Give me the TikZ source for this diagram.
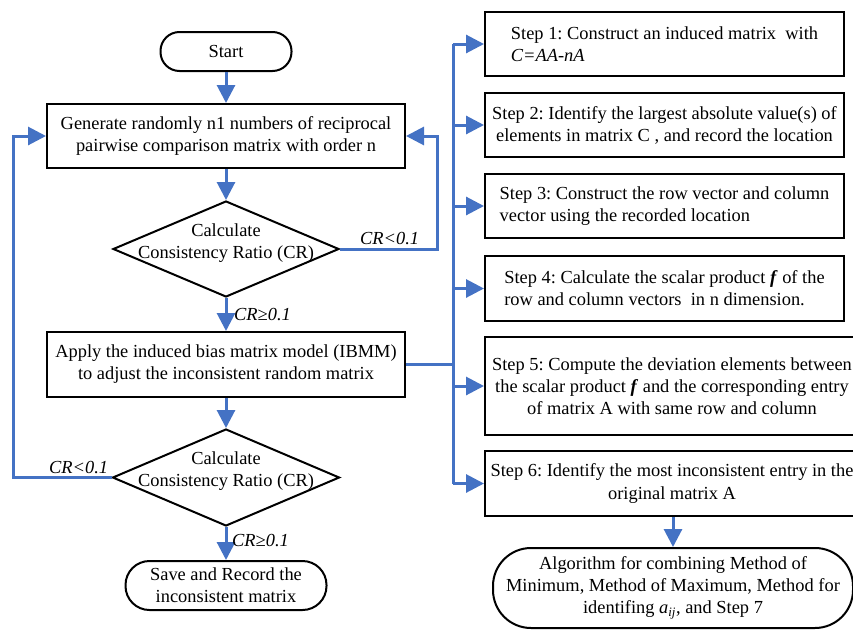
\documentclass[tikz,border=0pt]{standalone}
\usepackage{fontspec}
\setmainfont{Liberation Serif}
\usetikzlibrary{shapes.geometric,arrows.meta}
\definecolor{fblue}{RGB}{68,114,196}
\frenchspacing
\begin{document}
\begin{tikzpicture}[x=1pt,y=-1pt,
  every node/.style={font=\fontsize{18.4}{22}\selectfont, inner sep=0pt},
  procbox/.style={draw=black, line width=2pt, rectangle},
  termbox/.style={draw=black, line width=2pt, rectangle},
  decbox/.style={draw=black, line width=2pt, diamond},
  conn/.style={draw=fblue, line width=3pt},
  arr/.style={conn, -{Triangle[length=18pt,width=18pt]}},
  lbl/.style={font=\fontsize{18.4}{22}\selectfont\itshape, anchor=base west}]
\useasboundingbox (0,0) rectangle (853,629);
% left column
\node[termbox, rounded corners=19pt, minimum width=131pt, minimum height=39pt] (start) at (226,51.5) {Start};
\node[procbox, minimum width=358pt, minimum height=64pt, align=center] (gen) at (226,136)
  {Generate randomly n1 numbers of reciprocal\\pairwise comparison matrix with order n};
\node[decbox, minimum width=226pt, minimum height=96pt] (d1) at (226,249) {};
\node[align=center] (d1t) at (226,243.5) {Calculate\\Consistency Ratio (CR)};
\node[procbox, minimum width=358pt, minimum height=65pt, align=center] (ibmm) at (226,364.5)
  {Apply the induced bias matrix model (IBMM)\\to adjust the inconsistent random matrix};
\node[decbox, minimum width=227pt, minimum height=97pt] (d2) at (226,477.5) {};
\node[align=center] (d2t) at (226,471.5) {Calculate\\Consistency Ratio (CR)};
\node[termbox, rounded corners=24pt, minimum width=201pt, minimum height=49pt, align=center] (save) at (226,585.5)
  {Save and Record the\\inconsistent matrix};
% right column
\node[procbox, minimum width=359pt, minimum height=64pt, align=left] (s1) at (664.5,44)
  {Step 1: Construct an induced matrix~ with\\\textit{C=AA-nA}};
\node[procbox, minimum width=359pt, minimum height=64pt, align=center] (s2) at (664.5,125)
  {Step 2: Identify the largest absolute value(s) of\\elements in matrix C , and record the location};
\node[procbox, minimum width=359pt, minimum height=64pt, align=left] (s3) at (664.5,206)
  {Step 3: Construct the row vector and column\\vector using the recorded location};
\node[procbox, minimum width=359pt, minimum height=65pt, align=left] (s4) at (664.5,288.5)
  {Step 4: Calculate the scalar product \textbf{\textit{f}} of the\\row and column vectors~ in n dimension.};
\node[procbox, minimum width=374pt, minimum height=98pt, align=center] (s5) at (672,386)
  {Step 5: Compute the deviation elements between\\the scalar product \textbf{\textit{f}} and the corresponding entry\\of matrix A with same row and column};
\node[procbox, minimum width=374pt, minimum height=65pt, align=center] (s6) at (672,483.5)
  {Step 6: Identify the most inconsistent entry in the\\original matrix A};
\node[termbox, rounded corners=38pt, minimum width=360pt, minimum height=80pt, align=center] (fin) at (673,588)
  {Algorithm for combining Method of\\Minimum, Method of Maximum, Method for\\identifing \textit{a}\textsubscript{\textit{ij}}, and Step 7};
% coordinates
\coordinate (rx) at (437,0);
\coordinate (lx) at (13,0);
\coordinate (bx) at (453,0);
% connectors
\draw[arr] (start.south) -- (gen.north);
\draw[arr] (gen.south) -- (d1.north);
\draw[arr] (d1.south) -- (ibmm.north);
\draw[arr] (ibmm.south) -- (d2.north);
\draw[arr] (d2.south) -- (save.north);
\draw[arr] (d1.east) -- (d1.east -| rx) -- (gen.east -| rx) -- (gen.east);
\draw[arr] (d2.west) -- (d2.west -| lx) -- (gen.west -| lx) -- (gen.west);
\draw[conn] (ibmm.east) -- (ibmm.east -| bx);
\draw[conn] (s1.west -| bx) -- (s6.west -| bx);
\foreach \s in {s1,s2,s3,s4,s5,s6} {\draw[arr] (\s.west -| bx) -- (\s.west);}
\draw[arr] (s6.south -| fin.north) -- (fin.north);
% labels
\node[lbl] (l1) at (360,244) {CR<0.1};
\node[lbl] (l2) at (234,320) {CR≥0.1};
\node[lbl] (l3) at (49,473) {CR<0.1};
\node[lbl] (l4) at (232,546) {CR≥0.1};
\end{tikzpicture}
\end{document}
